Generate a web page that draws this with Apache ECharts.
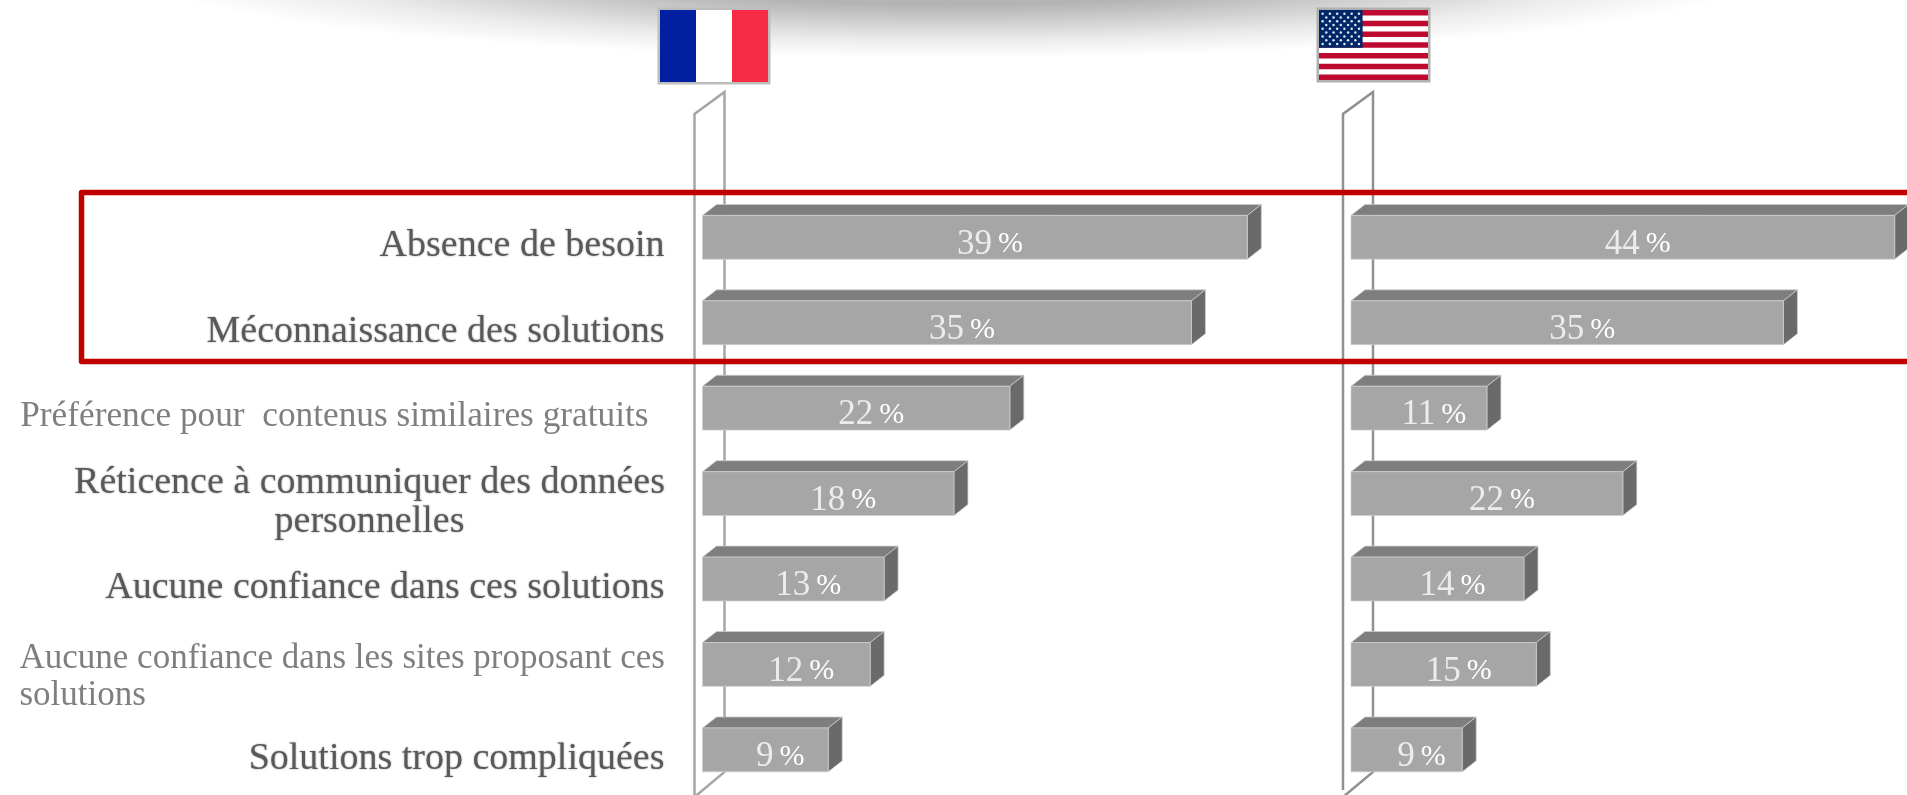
<!DOCTYPE html>
<html>
<head>
<meta charset="utf-8">
<title>Freins à l'usage des solutions</title>
<style>html,body{margin:0;padding:0;background:#fff}#chart{width:1907px;height:795px}</style>
<script src="https://cdn.jsdelivr.net/npm/echarts@6/dist/echarts.min.js"></script>
</head>
<body>
<div id="chart"></div>
<script>
const categories = [
  'Absence de besoin',
  'Méconnaissance des solutions',
  'Préférence pour  contenus similaires gratuits',
  'Réticence à communiquer des données\npersonnelles',
  'Aucune confiance dans ces solutions',
  'Aucune confiance dans les sites proposant ces\nsolutions',
  'Solutions trop compliquées'
];
const franceValues = [39, 35, 22, 18, 13, 12, 9];
const usaValues = [44, 35, 11, 22, 14, 15, 9];

const SERIF = '"Liberation Serif", serif';
const labelKeys = ['strong', 'strong', 'soft', 'centered', 'strong', 'left', 'strong'];

// Extruded bar: front face, top face and side face, with the value on the front.
function renderBar(params, api) {
  const value = api.value(0);
  const base = api.coord([0, api.value(1)]);
  const tip = api.coord([value, api.value(1)]);
  const h = api.size([0, 1])[1] * 0.513;
  const dx = 14, dy = 11;
  const y0 = base[1] - h / 2, y1 = base[1] + h / 2;
  const x0 = base[0], x1 = tip[0];
  const face = (points, fill) => ({
    type: 'polygon',
    shape: { points },
    style: { fill, stroke: 'rgba(205,205,205,0.75)', lineWidth: 1 }
  });
  return {
    type: 'group',
    children: [
      face([[x0, y0], [x0 + dx, y0 - dy], [x1 + dx, y0 - dy], [x1, y0]], '#7e7e7e'),
      face([[x1, y0], [x1 + dx, y0 - dy], [x1 + dx, y1 - dy], [x1, y1]], '#6a6a6a'),
      face([[x0, y0], [x1, y0], [x1, y1], [x0, y1]], '#a6a6a6'),
      {
        type: 'text',
        x: (x0 + x1) / 2 + 15,
        y: base[1] + 7,
        style: {
          text: '{n|' + value + '}{p|%}',
          align: 'center',
          verticalAlign: 'middle',
          fill: '#ffffff',
          rich: {
            n: { fontFamily: SERIF, fontSize: 35, fill: '#ececec' },
            p: { fontFamily: SERIF, fontSize: 30, fill: '#ffffff', padding: [0, 0, 0, 6] }
          }
        }
      }
    ]
  };
}

const barSeries = (values, idx) => ({
  type: 'custom',
  xAxisIndex: idx,
  yAxisIndex: idx,
  z: 5,
  clip: false,
  renderItem: renderBar,
  encode: { x: 0, y: 1 },
  data: values.map((v, i) => [v, i])
});

const labelColor = '#595959', softColor = '#7f7f7f';
const heavyFont = {
  fontFamily: SERIF, fontSize: 38, lineHeight: 39,
  textShadowColor: 'rgba(70,70,70,0.55)', textShadowBlur: 2
};
const softFont = { fontFamily: SERIF, fontSize: 35, lineHeight: 37 };

// Back wall of each panel.
const wall = (xFront, xBack, yEnd, stroke) => [
  {
    type: 'polyline', z: 1,
    shape: { points: [[xFront, yEnd + 12], [xFront, 114], [xBack, 92], [xBack, 772], [xFront, 797]] },
    style: { fill: 'none', stroke, lineWidth: 2.5 }
  }
];

// French tricolour.
function flagFrance(x, y, w, h) {
  const band = w / 3;
  return [
    { type: 'rect', z: 6, shape: { x: x - 2.5, y: y - 2.5, width: w + 5, height: h + 5 }, style: { fill: '#bdbdbd' } },
    { type: 'rect', z: 6, shape: { x, y, width: band, height: h }, style: { fill: '#00209f' } },
    { type: 'rect', z: 6, shape: { x: x + band, y, width: band, height: h }, style: { fill: '#ffffff' } },
    { type: 'rect', z: 6, shape: { x: x + 2 * band, y, width: band, height: h }, style: { fill: '#f62b45' } }
  ];
}

// Stars and stripes.
function flagUsa(x, y, w, h) {
  const out = [
    { type: 'rect', z: 6, shape: { x: x - 2.5, y: y - 2.5, width: w + 5, height: h + 5 }, style: { fill: '#b0b0b0' } },
    { type: 'rect', z: 6, shape: { x, y, width: w, height: h }, style: { fill: '#ffffff' } }
  ];
  const stripe = h / 13;
  for (let i = 0; i < 13; i += 2) {
    out.push({ type: 'rect', z: 6, shape: { x, y: y + i * stripe, width: w, height: stripe }, style: { fill: '#bf0a30' } });
  }
  const cw = w * 0.4, ch = stripe * 7;
  out.push({ type: 'rect', z: 6, shape: { x, y, width: cw, height: ch }, style: { fill: '#002868' } });
  for (let row = 0; row < 9; row++) {
    const n = row % 2 ? 5 : 6;
    for (let c = 0; c < n; c++) {
      const sx = x + (cw / 12) * (2 * c + (row % 2 ? 2 : 1));
      const sy = y + (ch / 10) * (row + 1);
      out.push({ type: 'circle', z: 6, shape: { cx: sx, cy: sy, r: 1.25 }, style: { fill: '#dfe4ee' } });
    }
  }
  return out;
}

// Soft shadow along the top edge of the slide.
const topShadow = {
  type: 'circle', z: 0,
  x: 953, y: -30, scaleX: 820 / 100, scaleY: 88 / 100,
  shape: { cx: 0, cy: 0, r: 100 },
  style: {
    fill: {
      type: 'radial', x: 0.5, y: 0.5, r: 0.5,
      colorStops: [
        { offset: 0, color: '#b4b4b4' },
        { offset: 0.4, color: '#b4b4b4' },
        { offset: 0.6, color: '#d0d0d0' },
        { offset: 0.8, color: '#ececec' },
        { offset: 1, color: '#ffffff' }
      ]
    }
  }
};

const highlightBox = {
  type: 'rect', z: 20,
  shape: { x: 81.5, y: 192.5, width: 1850, height: 169 },
  style: { fill: 'none', stroke: '#c00000', lineWidth: 5.5, lineJoin: 'round' }
};

const chart = echarts.init(document.getElementById('chart'));
chart.setOption({
  backgroundColor: '#ffffff',
  animation: false,
  grid: [
    { left: 702.5, top: 194.6, width: 558.8, height: 598 },
    { left: 1351, top: 194.6, width: 557.6, height: 598 }
  ],
  xAxis: [
    { type: 'value', gridIndex: 0, min: 0, max: 40, show: false },
    { type: 'value', gridIndex: 1, min: 0, max: 45, show: false }
  ],
  yAxis: [
    {
      type: 'category', gridIndex: 0, inverse: true, data: categories,
      axisLine: { show: false }, axisTick: { show: false },
      axisLabel: {
        show: true, margin: 38, align: 'right', interval: 0, padding: [18, 0, 0, 0],
        formatter: (value, index) => {
          const key = labelKeys[index];
          return value.split('\n').map(line => '{' + key + '|' + line + '}').join('\n');
        },
        rich: {
          strong: Object.assign({ color: labelColor, align: 'right' }, heavyFont),
          soft: Object.assign({ color: softColor, align: 'right', padding: [0, 16, 0, 0] }, softFont, { fontSize: 35.3 }),
          centered: Object.assign({ color: labelColor, width: 590, align: 'center' }, heavyFont),
          left: Object.assign({ color: softColor, width: 645, align: 'left', padding: [8, 0, 0, 0] }, softFont)
        }
      }
    },
    {
      type: 'category', gridIndex: 1, inverse: true, data: categories,
      axisLine: { show: false }, axisTick: { show: false }, axisLabel: { show: false }
    }
  ],
  series: [barSeries(franceValues, 0), barSeries(usaValues, 1)],
  graphic: [
    topShadow,
    ...wall(694.5, 724.5, 795, '#a6a6a6'),
    ...wall(1343, 1373, 778, '#909090'),
    ...flagFrance(660, 10, 108, 72),
    ...flagUsa(1319, 10, 109, 70),
    highlightBox
  ]
});
</script>
</body>
</html>
